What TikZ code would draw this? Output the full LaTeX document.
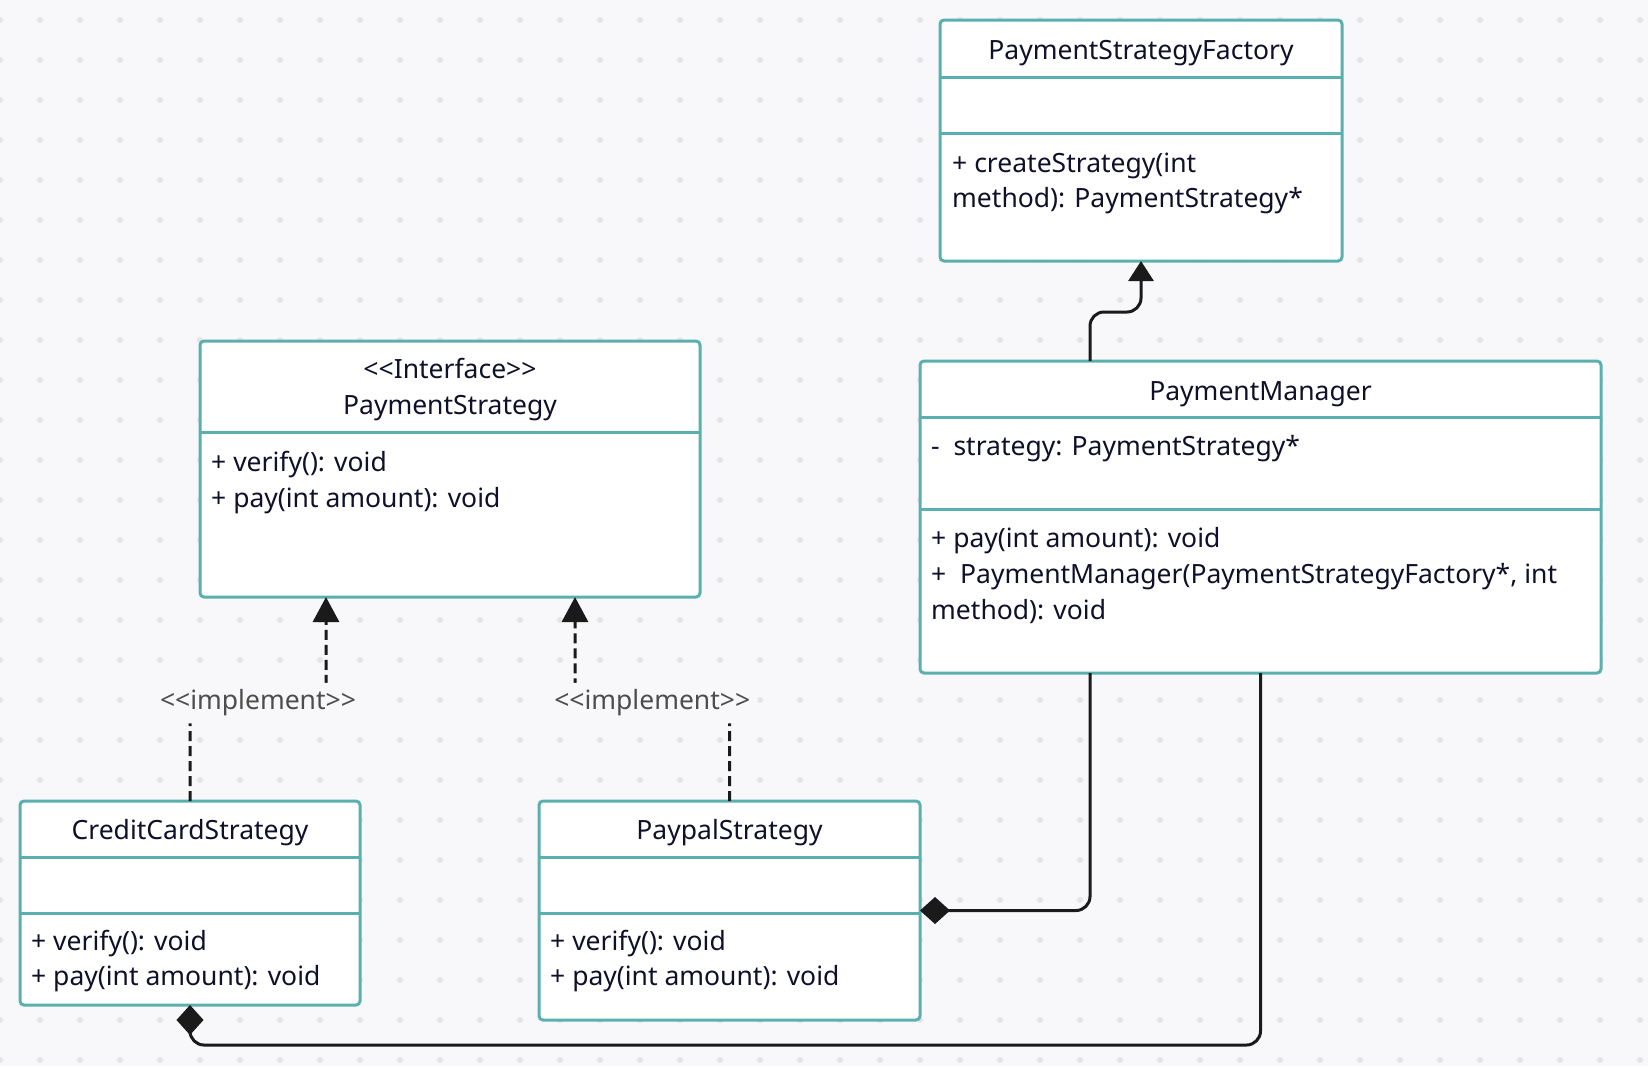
\documentclass[tikz,border=0pt]{standalone}
\usepackage{fontspec}
\setmainfont{Noto Sans}[Ligatures=TeXOff]
\usetikzlibrary{arrows.meta}
\definecolor{bgcol}{HTML}{F8F8FA}
\definecolor{dotcol}{HTML}{E4E4E9}
\definecolor{boxcol}{HTML}{5AAFAF}
\definecolor{txtcol}{HTML}{10102A}
\definecolor{lblcol}{HTML}{4D4D4D}
\definecolor{linecol}{HTML}{1A1A1A}
\tikzset{
	classbox/.style={draw=boxcol, line width=3pt, fill=white, rounded corners=4pt, anchor=north west, inner sep=0pt, outer sep=0pt},
	divider/.style={draw=boxcol, line width=3pt},
	member/.style={anchor=base west, inner sep=0pt, text=txtcol},
	cname/.style={anchor=base, inner sep=0pt, text=txtcol},
	conn/.style={draw=linecol, line width=3pt, rounded corners=14pt},
	realize/.style={conn, dash pattern=on 10pt off 5pt, -{Triangle[length=25pt,width=26pt]}},
	uses/.style={conn, -{Triangle[length=20pt,width=25pt]}},
	owns/.style={conn, -{Diamond[length=30pt,width=27pt]}},
	implabel/.style={fill=bgcol, text=lblcol, inner sep=7pt}
}
\begin{document}
\begin{tikzpicture}[x=1pt, y=-1pt, font=\fontsize{26.5}{36}\selectfont]
			\fill[bgcol] (0,0) rectangle (1648,1066);
			\useasboundingbox (0,0) rectangle (1648,1066);
			\foreach \x in {0,40,...,1640}{
				\foreach \y in {20,60,...,1060}{
					\fill[dotcol] (\x,\y) circle (3pt);
				}
			}
			% classes
			\node[classbox, minimum width=402pt, minimum height=241pt] (factory) at (940,20) {};
			\node[classbox, minimum width=500pt, minimum height=256pt] (iface) at (200,341) {};
			\node[classbox, minimum width=681pt, minimum height=312pt] (manager) at (920,361) {};
			\node[classbox, minimum width=340pt, minimum height=204pt] (credit) at (20,801) {};
			\node[classbox, minimum width=381pt, minimum height=219pt] (paypal) at (539,801) {};
			\foreach \n/\y in {factory/77, factory/133, iface/432, manager/417, manager/509, credit/857, credit/913, paypal/857, paypal/913}{
				\draw[divider] (\n.west |- 0,\y) -- (\n.east |- 0,\y);
			}
			\node[cname] (factoryname) at (factory.north |- 0,59) {PaymentStrategyFactory};
			\node[member] (factorym1) at (952,172) {+ createStrategy(int};
			\node[member] (factorym2) at (952,207) {method): PaymentStrategy*};
			\node[cname] (ifacetag) at (iface.north |- 0,378) {<<Interface>>};
			\node[cname] (ifacename) at (iface.north |- 0,414) {PaymentStrategy};
			\node[member] (ifacem1) at (211,471) {+ verify(): void};
			\node[member] (ifacem2) at (211,507) {+ pay(int amount): void};
			\node[cname] (managername) at (manager.north |- 0,400) {PaymentManager};
			\node[member] (managera1) at (931,455) {-\ \ strategy: PaymentStrategy*};
			\node[member] (managerm1) at (931,547) {+ pay(int amount): void};
			\node[member] (managerm2) at (931,583) {+\ \ PaymentManager(PaymentStrategyFactory*, int};
			\node[member] (managerm3) at (931,619) {method): void};
			\node[cname] (creditname) at (credit.north |- 0,839) {CreditCardStrategy};
			\node[member] (creditm1) at (31,950) {+ verify(): void};
			\node[member] (creditm2) at (31,985) {+ pay(int amount): void};
			\node[cname] (paypalname) at (paypal.north |- 0,839) {PaypalStrategy};
			\node[member] (paypalm1) at (550,950) {+ verify(): void};
			\node[member] (paypalm2) at (550,985) {+ pay(int amount): void};
			% relations
			\draw[uses] ([xshift=-170.5pt]manager.north) -- ++(0,-49) -| (factory.south);
			\draw[realize] (credit.north) -- ++(0,-98) -| node[implabel, pos=.25] (impl1) {<<implement>>} ([xshift=-124pt]iface.south);
			\draw[realize] (paypal.north) -- ++(0,-98) -| node[implabel, pos=.25] (impl2) {<<implement>>} ([xshift=125pt]iface.south);
			\draw[owns] ([xshift=-170.5pt]manager.south) |- (paypal.east);
			\draw[owns] (manager.south) -- ++(0,372) -| (credit.south);
\end{tikzpicture}
\end{document}
